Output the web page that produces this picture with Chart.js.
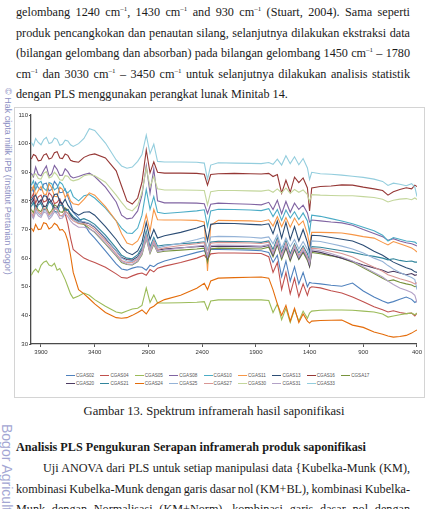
<!DOCTYPE html>
<html>
<head>
<meta charset="utf-8">
<script src="https://cdn.jsdelivr.net/npm/chart.js@4.4.1/dist/chart.umd.min.js"></script>
<style>
    html, body { margin: 0; padding: 0; background: #fff; }
    body { width: 428px; height: 509px; position: relative; overflow: hidden;
           font-family: "Liberation Serif", "Times New Roman", serif; color: #1a1a1a; }
    .txt { position: absolute; left: 16px; width: 394px; font-size: 12.2px; line-height: 16px;
           word-spacing: -1.5px; text-align: justify; text-align-last: justify; }
    .txt.left { text-align: left; text-align-last: left; word-spacing: 0; }
    .txt sup { font-size: 7px; line-height: 0; vertical-align: 5px; }
    .caption { position: absolute; left: 0; width: 428px; text-align: center; font-size: 12.6px; line-height: 16px; }
    .box { position: absolute; left: 14px; top: 107px; width: 409px; height: 289px; border: 1px solid #d4d4d4; }
    #chartWrap { position: absolute; left: 15px; top: 108px; width: 409px; height: 256px; }
    .legend-item { position: absolute; height: 6px; font-family: "Liberation Sans", Arial, sans-serif;
                   font-size: 4.6px; line-height: 6px; color: #555; white-space: nowrap; }
    .legend-item i { display: inline-block; width: 9px; height: 1.4px; vertical-align: middle; margin-right: 1px; }
    .wm { position: absolute; color: #8d90c4; font-family: "Liberation Sans", Arial, sans-serif;
          transform-origin: 0 0; transform: rotate(90deg); white-space: nowrap; }
</style>
</head>
<body>
<div class="txt" style="top:4px">gelombang 1240 cm<sup>–1</sup>, 1430 cm<sup>–1</sup> and 930 cm<sup>–1</sup> (Stuart, 2004). Sama seperti</div>
<div class="txt" style="top:25px">produk pencangkokan dan penautan silang, selanjutnya dilakukan ekstraksi data</div>
<div class="txt" style="top:45px">(bilangan gelombang dan absorban) pada bilangan gelombang 1450 cm<sup>–1</sup> – 1780</div>
<div class="txt" style="top:66px">cm<sup>–1</sup> dan 3030 cm<sup>–1</sup> – 3450 cm<sup>–1</sup> untuk selanjutnya dilakukan analisis statistik</div>
<div class="txt left" style="top:86px">dengan PLS menggunakan perangkat lunak Minitab 14.</div>

<div class="box"></div>
<div id="chartWrap"><canvas id="irChart" width="409" height="256"></canvas></div>
<div id="legend"></div>

<div class="caption" style="top:403px">Gambar 13. Spektrum inframerah hasil saponifikasi</div>
<div class="txt left" style="top:439px; font-weight:bold;">Analisis PLS Pengukuran Serapan inframerah produk saponifikasi</div>
<div class="txt" style="top:460px; left:43px; width:367px;">Uji ANOVA dari PLS untuk setiap manipulasi data {Kubelka-Munk (KM),</div>
<div class="txt" style="top:481px">kombinasi Kubelka-Munk dengan garis dasar nol (KM+BL), kombinasi Kubelka-</div>
<div class="txt" style="top:501px">Munk dengan Normalisasi (KM+Norm), kombinasi garis dasar nol dengan</div>

<div class="wm" style="left:13px; top:88px; font-size:9px;">© Hak cipta milik IPB (Institut Pertanian Bogor)</div>
<div class="wm" style="left:15px; top:424px; font-size:14px; color:#a3a6d3;">Bogor Agricultural University</div>

<script>
(() => {
    const wavenumbers = [3990, 3970, 3950, 3925, 3900, 3875, 3850, 3825, 3800, 3775,
        3750, 3725, 3700, 3675, 3650, 3625, 3600, 3550,
        3500, 3450, 3400, 3300, 3200, 3150, 3100, 3050, 3000, 2960,
        2920, 2885, 2850, 2815, 2750, 2600, 2450, 2380, 2350, 2320,
        2250, 2100, 1950, 1850, 1780, 1740, 1700, 1660, 1620, 1580,
        1540, 1500, 1460, 1420, 1400, 1380, 1300, 1200, 1100, 1000,
        900, 800, 720, 670, 620, 560, 500, 450, 420, 400];

    const xTicks = [3900, 3400, 2900, 2400, 1900, 1400, 900, 400];

    const seriesNames = ['CGAS02', 'CGAS04', 'CGAS05', 'CGAS08', 'CGAS10', 'CGAS11', 'CGAS13', 'CGAS16', 'CGSA17',
        'CGAS20', 'CGAS21', 'CGAS24', 'CGAS25', 'CGAS27', 'CGAS30', 'CGAS31', 'CGAS33'];

    const seriesColors = ['#4F81BD', '#C0504D', '#9BBB59', '#8064A2', '#4BACC6', '#F79646', '#2C4D75', '#953735', '#77933C',
        '#4D3B62', '#31859C', '#E46C0A', '#95B3D7', '#D99694', '#C3D69B', '#B3A2C7', '#93CDDD'];

    const cgas02 = [84.8, 83.2, 86.5, 84.6, 83.8, 85.9, 86.2, 83.5, 84.0, 86.8,
        85.5, 82.9, 83.0, 84.2, 81.5, 79.0, 76.0, 74.0,
        72.0, 69.0, 67.0, 62.5, 58.0, 56.2, 55.8, 56.5, 57.0, 56.8,
        55.8, 57.5, 57.0, 58.0, 59.0, 60.5, 62.0, 62.6, 61.0, 63.0,
        63.0, 62.9, 62.8, 62.6, 62.0, 58.5, 61.0, 53.5, 59.0, 52.0,
        57.0, 51.0, 55.0, 50.0, 51.5, 51.3, 51.0, 50.5, 50.2, 51.3,
        48.5, 46.4, 45.0, 44.3, 44.8, 45.6, 46.4, 45.6, 44.5, 45.0];
    const cgas04 = [81.0, 82.6, 79.2, 81.4, 82.0, 79.6, 80.0, 82.8, 81.8, 79.0,
        79.5, 80.8, 78.0, 75.5, 72.0, 67.0, 63.0, 61.5,
        60.0, 59.2, 58.5, 56.8, 54.5, 53.2, 53.0, 53.8, 54.5, 54.8,
        54.0, 56.0, 55.2, 56.5, 57.2, 58.5, 60.0, 61.0, 59.5, 61.5,
        61.8, 61.8, 61.7, 61.6, 60.5, 55.0, 58.5, 49.0, 55.0, 47.5,
        53.0, 46.5, 51.0, 47.0, 49.5, 50.0, 49.6, 48.6, 47.8, 46.4,
        44.8, 43.0, 42.0, 41.2, 41.6, 41.0, 40.6, 40.8, 39.8, 40.8];
    const cgas05 = [54.0, 55.4, 56.2, 55.0, 57.5, 58.6, 59.0, 57.6, 57.2, 58.2,
        55.8, 56.4, 54.5, 52.5, 50.0, 47.5, 46.0, 46.8,
        47.8, 47.0, 45.5, 43.2, 41.2, 40.8, 41.5, 42.2, 42.5, 43.5,
        49.6, 44.5, 47.1, 44.3, 44.3, 44.4, 44.6, 44.8, 42.0, 45.0,
        45.4, 45.4, 45.4, 45.4, 45.2, 41.0, 44.0, 38.5, 42.5, 37.5,
        42.0, 38.0, 41.5, 39.0, 40.8, 41.5, 41.8, 41.9, 41.9, 41.8,
        41.5, 41.2, 40.5, 39.4, 39.8, 40.2, 40.6, 40.8, 40.2, 40.8];
    const cgas08 = [89.6, 88.4, 91.8, 89.2, 88.8, 90.6, 92.2, 88.6, 89.5, 92.4,
        91.0, 88.9, 89.0, 91.2, 90.2, 88.6, 88.0, 88.5,
        89.2, 89.7, 88.5, 84.8, 79.6, 75.0, 73.7, 74.0, 76.5, 82.0,
        92.3, 82.7, 91.2, 80.0, 79.3, 79.3, 79.2, 79.0, 75.6, 78.8,
        79.2, 79.0, 78.8, 78.6, 79.5, 77.0, 80.2, 75.5, 79.8, 76.0,
        79.2, 77.0, 78.5, 75.8, 72.6, 73.3, 73.0, 72.6, 72.3, 71.5,
        70.0, 68.6, 67.5, 66.2, 66.8, 66.0, 65.4, 65.0, 64.6, 64.2];
    const cgas10 = [85.5, 87.0, 84.0, 86.2, 86.8, 84.4, 83.6, 86.4, 86.0, 83.8,
        84.5, 86.6, 85.8, 83.6, 82.8, 83.8, 81.5, 80.0,
        81.8, 82.2, 81.0, 77.5, 73.0, 70.5, 68.8, 68.6, 70.5, 75.0,
        84.0, 77.0, 81.5, 76.0, 75.6, 76.0, 76.5, 76.9, 71.0, 76.5,
        77.1, 77.0, 76.8, 76.6, 77.3, 74.5, 77.0, 73.2, 76.8, 74.0,
        76.2, 73.5, 75.8, 73.0, 69.0, 75.0, 74.6, 73.8, 73.0, 72.0,
        70.8, 69.6, 68.0, 66.0, 67.2, 66.6, 66.0, 65.8, 65.6, 65.0];
    const cgas11 = [83.5, 85.2, 81.8, 83.6, 85.0, 82.4, 82.2, 86.0, 84.6, 81.6,
        81.5, 84.8, 84.0, 81.2, 82.5, 80.0, 79.0, 78.6,
        80.5, 82.8, 82.0, 78.0, 73.0, 68.5, 65.3, 64.6, 66.0, 69.0,
        75.2, 69.4, 77.0, 73.4, 73.3, 73.3, 73.2, 72.6, 55.5, 71.5,
        73.2, 73.1, 73.0, 72.8, 73.4, 71.2, 74.5, 71.0, 74.2, 70.8,
        74.0, 71.5, 73.0, 68.5, 64.6, 69.0, 69.0, 68.9, 68.8, 68.2,
        67.5, 67.0, 65.5, 64.6, 65.8, 65.0, 64.2, 63.5, 62.8, 62.1];
    const cgas13 = [80.2, 81.4, 82.0, 79.8, 79.5, 81.8, 81.6, 79.4, 80.0, 82.2,
        82.4, 79.8, 79.0, 80.6, 78.5, 77.2, 76.2, 75.0,
        76.0, 76.2, 75.0, 71.0, 66.5, 63.8, 62.0, 61.2, 62.5, 65.5,
        72.5, 66.5, 70.0, 67.0, 67.8, 69.0, 70.5, 71.5, 66.0, 71.8,
        72.2, 72.1, 71.8, 71.6, 72.0, 68.5, 73.0, 67.0, 72.5, 66.5,
        71.0, 66.0, 70.0, 65.5, 62.0, 68.0, 67.8, 67.2, 66.6, 66.0,
        64.5, 62.4, 61.0, 59.8, 58.6, 57.6, 56.6, 56.0, 55.2, 55.0];
    const cgas16 = [94.6, 96.2, 95.8, 94.0, 94.2, 96.0, 96.5, 94.6, 95.0, 96.8,
        97.2, 95.0, 94.8, 96.4, 95.9, 94.2, 93.8, 93.5,
        95.2, 96.0, 96.4, 95.0, 90.5, 85.2, 80.0, 78.9, 81.0, 86.5,
        97.8, 89.8, 93.6, 90.0, 89.7, 89.7, 89.6, 89.3, 85.5, 89.2,
        89.5, 89.6, 89.5, 89.4, 89.6, 88.5, 89.2, 82.7, 87.2, 83.0,
        88.3, 86.4, 88.0, 84.5, 76.5, 84.5, 85.0, 85.2, 85.6, 85.5,
        84.8, 84.2, 83.6, 82.0, 83.2, 84.0, 84.6, 84.2, 85.5, 85.0];
    const cgsa17 = [77.0, 75.8, 78.4, 76.8, 76.2, 78.2, 77.8, 75.6, 76.6, 78.6,
        78.0, 76.2, 76.0, 77.6, 76.8, 75.0, 73.8, 72.2,
        71.8, 70.4, 69.0, 65.0, 60.8, 58.5, 57.8, 57.6, 58.8, 61.2,
        66.8, 61.6, 64.8, 62.0, 62.4, 62.8, 63.2, 63.5, 58.5, 63.3,
        63.5, 63.4, 63.3, 63.2, 63.8, 60.5, 64.6, 59.5, 63.5, 59.0,
        63.0, 59.5, 62.0, 59.2, 57.0, 62.0, 61.5, 60.8, 60.0, 58.6,
        56.6, 54.6, 53.0, 52.0, 52.4, 51.6, 51.0, 50.6, 50.0, 50.2];
    const cgas20 = [79.0, 80.6, 77.5, 79.4, 80.4, 78.0, 78.2, 80.8, 79.6, 77.6,
        77.4, 79.6, 78.8, 76.8, 77.0, 75.2, 74.0, 72.8,
        72.5, 72.0, 70.8, 66.8, 62.5, 60.2, 59.5, 59.3, 60.5, 63.0,
        68.5, 63.0, 66.4, 62.8, 63.2, 63.6, 64.0, 64.2, 59.8, 64.0,
        64.2, 64.1, 64.0, 63.9, 64.4, 61.0, 65.2, 60.2, 64.0, 59.5,
        63.4, 59.8, 62.5, 59.8, 57.2, 62.5, 62.0, 61.0, 60.0, 58.8,
        57.6, 56.6, 55.8, 55.0, 55.4, 54.8, 54.2, 54.6, 54.0, 54.2];
    const cgas21 = [78.0, 79.4, 76.5, 78.6, 79.2, 76.8, 77.2, 79.8, 78.8, 76.4,
        76.0, 78.6, 78.4, 76.2, 77.0, 75.6, 74.5, 73.2,
        73.8, 73.0, 71.8, 68.0, 63.5, 61.0, 60.0, 59.8, 61.2, 63.8,
        69.5, 64.0, 67.2, 64.2, 64.6, 65.0, 65.4, 65.7, 60.5, 65.6,
        65.9, 65.8, 65.7, 65.5, 66.0, 63.0, 67.0, 62.0, 66.2, 61.5,
        65.0, 61.8, 64.2, 61.5, 59.0, 64.0, 63.8, 63.2, 62.6, 62.0,
        61.2, 60.6, 60.0, 59.4, 59.8, 59.2, 58.8, 59.0, 58.6, 58.6];
    const cgas24 = [70.5, 69.4, 71.8, 70.0, 70.2, 72.4, 72.0, 70.2, 70.8, 72.2,
        71.5, 69.8, 70.0, 68.8, 66.0, 61.0, 55.0, 49.0,
        47.5, 45.8, 44.0, 41.0, 39.2, 39.0, 39.2, 40.0, 41.0, 41.9,
        40.5, 42.5, 43.2, 44.3, 45.5, 47.0, 49.5, 51.2, 49.0, 52.0,
        53.0, 53.2, 53.3, 53.4, 53.0, 48.9, 44.0, 40.0, 43.5, 38.0,
        42.5, 37.5, 40.5, 38.0, 37.3, 38.0, 38.2, 38.3, 38.4, 36.6,
        35.8, 34.2, 33.4, 32.8, 32.4, 32.6, 33.0, 33.8, 34.5, 34.9];
    const cgas25 = [75.5, 74.2, 77.0, 75.6, 74.8, 76.4, 76.6, 74.4, 75.2, 77.2,
        77.4, 75.0, 74.5, 76.0, 75.8, 74.4, 73.5, 72.5,
        72.8, 72.2, 71.0, 67.2, 62.5, 60.0, 59.0, 58.8, 60.0, 62.5,
        68.5, 63.0, 66.5, 63.5, 64.2, 65.2, 66.5, 67.2, 63.0, 67.4,
        67.6, 67.5, 67.3, 67.0, 67.4, 65.0, 68.2, 63.5, 67.0, 64.0,
        66.5, 63.2, 65.8, 63.0, 60.5, 66.0, 65.8, 65.0, 64.2, 63.2,
        61.8, 60.0, 58.8, 57.4, 56.2, 55.0, 54.0, 53.2, 52.5, 49.0];
    const cgas27 = [76.0, 74.6, 77.8, 76.2, 75.4, 77.6, 77.0, 75.0, 75.8, 77.4,
        76.8, 74.8, 75.0, 76.4, 75.6, 74.0, 73.0, 72.0,
        72.0, 71.2, 70.0, 66.0, 61.5, 59.2, 58.5, 58.4, 59.6, 62.0,
        67.8, 62.5, 66.0, 63.0, 63.6, 64.4, 65.0, 65.4, 61.0, 65.2,
        65.5, 65.4, 65.3, 65.1, 65.6, 62.0, 66.2, 61.0, 65.4, 60.5,
        64.5, 60.8, 63.6, 60.5, 58.5, 63.5, 63.2, 62.4, 61.6, 60.4,
        58.6, 56.8, 55.4, 54.2, 53.6, 52.8, 52.2, 51.6, 51.0, 51.4];
    const cgas30 = [88.0, 89.0, 89.5, 87.8, 87.6, 89.6, 90.2, 88.0, 88.4, 90.0,
        89.0, 87.4, 87.2, 88.8, 88.6, 87.4, 87.0, 87.5,
        88.8, 89.2, 88.8, 86.5, 82.0, 79.5, 77.2, 76.5, 78.5, 83.0,
        91.5, 85.0, 88.5, 84.2, 83.8, 83.8, 83.7, 83.6, 78.6, 83.2,
        83.6, 83.6, 83.5, 83.4, 83.8, 83.0, 84.2, 82.8, 84.5, 82.6,
        84.0, 83.0, 83.8, 82.2, 79.7, 82.2, 82.0, 81.9, 81.8, 81.8,
        81.5, 81.2, 80.6, 79.6, 80.2, 80.6, 80.8, 80.4, 81.0, 80.5];
    const cgas31 = [75.0, 73.8, 76.2, 74.8, 74.2, 76.0, 75.8, 73.6, 74.6, 76.2,
        75.5, 73.8, 74.0, 75.6, 74.5, 73.0, 72.0, 70.8,
        70.8, 70.2, 69.2, 65.2, 61.0, 58.8, 58.0, 57.8, 59.0, 61.5,
        67.0, 62.0, 65.2, 62.2, 62.8, 63.5, 64.2, 64.5, 60.5, 64.4,
        64.6, 64.5, 64.4, 64.2, 64.8, 61.5, 65.5, 60.5, 64.6, 60.0,
        63.8, 60.2, 62.8, 60.0, 58.0, 63.0, 62.6, 61.6, 60.4, 59.0,
        57.0, 55.0, 53.4, 52.0, 50.8, 49.6, 48.8, 48.0, 47.0, 44.5];
    const cgas33 = [100.5, 99.2, 101.8, 100.4, 99.6, 101.4, 102.2, 100.0, 100.4, 102.0,
        101.5, 99.4, 99.8, 101.2, 100.9, 99.6, 99.0, 100.0,
        101.8, 105.2, 104.6, 100.2, 94.3, 92.2, 91.4, 91.8, 93.8, 96.2,
        103.0, 96.5, 99.8, 93.8, 93.6, 93.6, 93.5, 93.2, 87.5, 92.5,
        93.3, 93.2, 93.1, 93.0, 93.4, 92.8, 94.6, 92.5, 95.8, 93.0,
        95.4, 92.6, 94.8, 91.5, 87.5, 90.0, 89.5, 89.3, 89.0, 88.6,
        88.2, 87.6, 86.8, 85.4, 86.2, 85.8, 85.3, 86.0, 84.8, 81.5];

    const seriesValues = [cgas02, cgas04, cgas05, cgas08, cgas10, cgas11, cgas13, cgas16, cgsa17,
        cgas20, cgas21, cgas24, cgas25, cgas27, cgas30, cgas31, cgas33];

    const tickFont = { family: '"Liberation Sans", Arial, sans-serif', size: 6 };

    // html legend, laid out like the Excel one: 9 per row, left aligned
    const htmlLegend = {
        id: 'htmlLegend',
        afterUpdate(chart) {
            const box = document.getElementById('legend');
            box.innerHTML = '';
            chart.data.datasets.forEach((ds, i) => {
                const item = document.createElement('div');
                item.className = 'legend-item';
                item.style.left = (66 + (i % 9) * 34.4) + 'px';
                item.style.top = (373 + Math.floor(i / 9) * 8) + 'px';
                item.innerHTML = `<i style="background:${ds.borderColor}"></i>${ds.label}`;
                box.appendChild(item);
            });
        }
    };

    const datasets = seriesNames.map((name, i) => ({
        label: name,
        data: wavenumbers.map((w, j) => ({ x: w, y: seriesValues[i][j] })),
        borderColor: seriesColors[i],
        borderWidth: 1.1,
        pointRadius: 0,
        tension: 0,
        fill: false,
        order: seriesNames.length - i
    }));

    new Chart(document.getElementById('irChart').getContext('2d'), {
        type: 'line',
        data: { datasets },
        options: {
            responsive: false,
            animation: false,
            layout: { padding: { top: 7, right: 6, left: 0, bottom: 0 } },
            plugins: { legend: { display: false }, tooltip: { enabled: false } },
            scales: {
                x: {
                    type: 'linear',
                    reverse: true,
                    min: 400,
                    max: 3993,
                    afterBuildTicks: scale => { scale.ticks = xTicks.map(v => ({ value: v })); },
                    afterFit: scale => { scale.height = 20; },
                    grid: { display: true, drawOnChartArea: false, drawTicks: true, tickLength: 3, color: '#555' },
                    border: { display: true, color: '#4a4a4a', width: 1.3 },
                    ticks: { font: tickFont, color: '#333', padding: 2, maxRotation: 0, autoSkip: false,
                             callback: v => String(v) }
                },
                y: {
                    min: 30,
                    max: 110,
                    afterFit: scale => { scale.width = 16; },
                    grid: { display: true, drawOnChartArea: false, drawTicks: true, tickLength: 2, color: '#555' },
                    border: { display: true, color: '#4a4a4a', width: 1.3 },
                    ticks: { stepSize: 10, font: tickFont, color: '#333', padding: 1 }
                }
            }
        },
        plugins: [htmlLegend]
    });
})();
</script>
</body>
</html>
